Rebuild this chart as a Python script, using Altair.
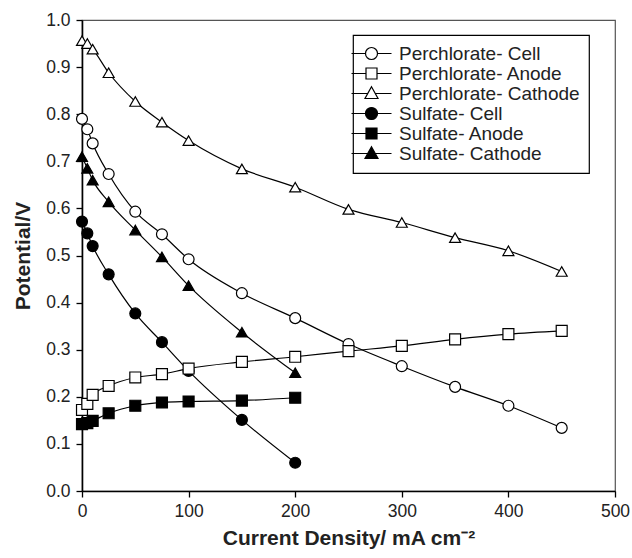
import altair as alt
import pandas as pd

x_perc = [0, 5, 10, 25, 50, 75, 100, 150, 200, 250, 300, 350, 400, 450]
perc_cell = [0.790, 0.768, 0.738, 0.673, 0.593, 0.545, 0.492, 0.420, 0.367, 0.312, 0.265, 0.221, 0.181, 0.134]
perc_anode = [0.172, 0.185, 0.204, 0.223, 0.241, 0.248, 0.260, 0.274, 0.285, 0.297, 0.308, 0.322, 0.333, 0.340]
perc_cathode = [0.956, 0.950, 0.938, 0.888, 0.827, 0.783, 0.744, 0.684, 0.645, 0.598, 0.570, 0.538, 0.510, 0.466]

x_sulf = [0, 5, 10, 25, 50, 75, 100, 150, 200]
sulf_cell = [0.572, 0.547, 0.520, 0.460, 0.377, 0.316, 0.255, 0.151, 0.060]
sulf_anode = [0.142, 0.144, 0.149, 0.165, 0.181, 0.188, 0.190, 0.192, 0.198]
sulf_cathode = [0.710, 0.685, 0.660, 0.614, 0.554, 0.497, 0.436, 0.337, 0.251]

series_names = ["Perchlorate- Cell", "Perchlorate- Anode", "Perchlorate- Cathode",
                "Sulfate- Cell", "Sulfate- Anode", "Sulfate- Cathode"]
series_kind = ["Cell", "Anode", "Cathode", "Cell", "Anode", "Cathode"]

x_ticks = [0, 100, 200, 300, 400, 500]
y_ticks = [0.0, 0.1, 0.2, 0.3, 0.4, 0.5, 0.6, 0.7, 0.8, 0.9, 1.0]

rows = []
for i, (xs, ys) in enumerate([
    (x_perc, perc_cell), (x_perc, perc_anode), (x_perc, perc_cathode),
    (x_sulf, sulf_cell), (x_sulf, sulf_anode), (x_sulf, sulf_cathode),
]):
    for xv, yv in zip(xs, ys):
        rows.append({"series": series_names[i], "kind": series_kind[i], "x": xv, "y": yv})
df = pd.DataFrame(rows)

kind_shape = {"Cell": "circle", "Anode": "square", "Cathode": "triangle-up"}
legend_shapes = [
    "M-4,0H-1.2M1.2,0H4M-1.2,0A1.2,1.2 0 1,0 1.2,0A1.2,1.2 0 1,0 -1.2,0Z",
    "M-4,0H-1.1M1.1,0H4M-1.1,-1.1H1.1V1.1H-1.1Z",
    "M-4,0H-0.75M0.75,0H4M0,-1.35L1.3,1L-1.3,1Z",
    "M-4,0H-1.2M1.2,0H4M-1.2,0A1.2,1.2 0 1,0 1.2,0A1.2,1.2 0 1,0 -1.2,0Z",
    "M-4,0H-1.1M1.1,0H4M-1.1,-1.1H1.1V1.1H-1.1Z",
    "M-4,0H-0.75M0.75,0H4M0,-1.35L1.3,1L-1.3,1Z",
]
fills = ["white", "white", "white", "black", "black", "black"]

xenc = alt.X("x:Q", scale=alt.Scale(domain=[x_ticks[0], x_ticks[-1]], nice=False),
             axis=alt.Axis(values=x_ticks, title="Current Density/ mA cm⁻²", labelFlush=False))
yenc = alt.Y("y:Q", scale=alt.Scale(domain=[y_ticks[0], y_ticks[-1]], nice=False),
             axis=alt.Axis(values=y_ticks, format=".1f", title="Potential/V", labelFlush=False))
fill_enc = alt.Fill("series:N", scale=alt.Scale(domain=series_names, range=fills),
                    legend=alt.Legend(title=None))

base = alt.Chart(df)

lines = base.mark_line(color="black", strokeWidth=1.2, interpolate="monotone").encode(
    x=xenc, y=yenc, detail="series:N"
)

point_layers = []
for kind, shp in kind_shape.items():
    point_layers.append(
        base.transform_filter(alt.datum.kind == kind)
        .mark_point(shape=shp, stroke="black", strokeWidth=1.2, size=120, opacity=1)
        .encode(x=xenc, y=yenc, fill=fill_enc)
    )

legend_layer = base.transform_filter("false").mark_point(
    stroke="black", strokeWidth=1.2, size=100, opacity=1
).encode(
    x=xenc, y=yenc,
    shape=alt.Shape("series:N", scale=alt.Scale(domain=series_names, range=legend_shapes),
                    legend=alt.Legend(title=None)),
    fill=fill_enc,
)

chart = alt.layer(lines, *point_layers, legend_layer).properties(
    width=533, height=471,
    autosize=alt.AutoSizeParams(type="none"),
    padding={"left": 82, "top": 20, "right": 17, "bottom": 67},
).configure_view(
    stroke="#555555", strokeWidth=1.2
).configure_axis(
    grid=False,
    domain=True, domainColor="black", domainWidth=1.6,
    ticks=True, tickColor="black", tickWidth=1.3, tickSize=6,
    labelFont="Liberation Sans", labelFontSize=17.5, labelColor="#222222",
    titleFont="Liberation Sans", titleFontSize=21, titleFontWeight="bold", titleColor="#222222",
).configure_axisX(
    labelPadding=5, titlePadding=8
).configure_axisY(
    labelPadding=6, titlePadding=12
).configure_legend(
    orient="none", legendX=271, legendY=15,
    strokeColor="black", strokeWidth=1.2, fillColor="white",
    padding=9, labelFont="Liberation Sans", labelFontSize=19, labelColor="#222222",
    labelLimit=0,
    symbolSize=100, symbolStrokeColor="black", symbolStrokeWidth=1.2,
    rowPadding=0, labelOffset=18,
)

chart.save("out.html", embed_options={"renderer": "svg", "actions": False})
